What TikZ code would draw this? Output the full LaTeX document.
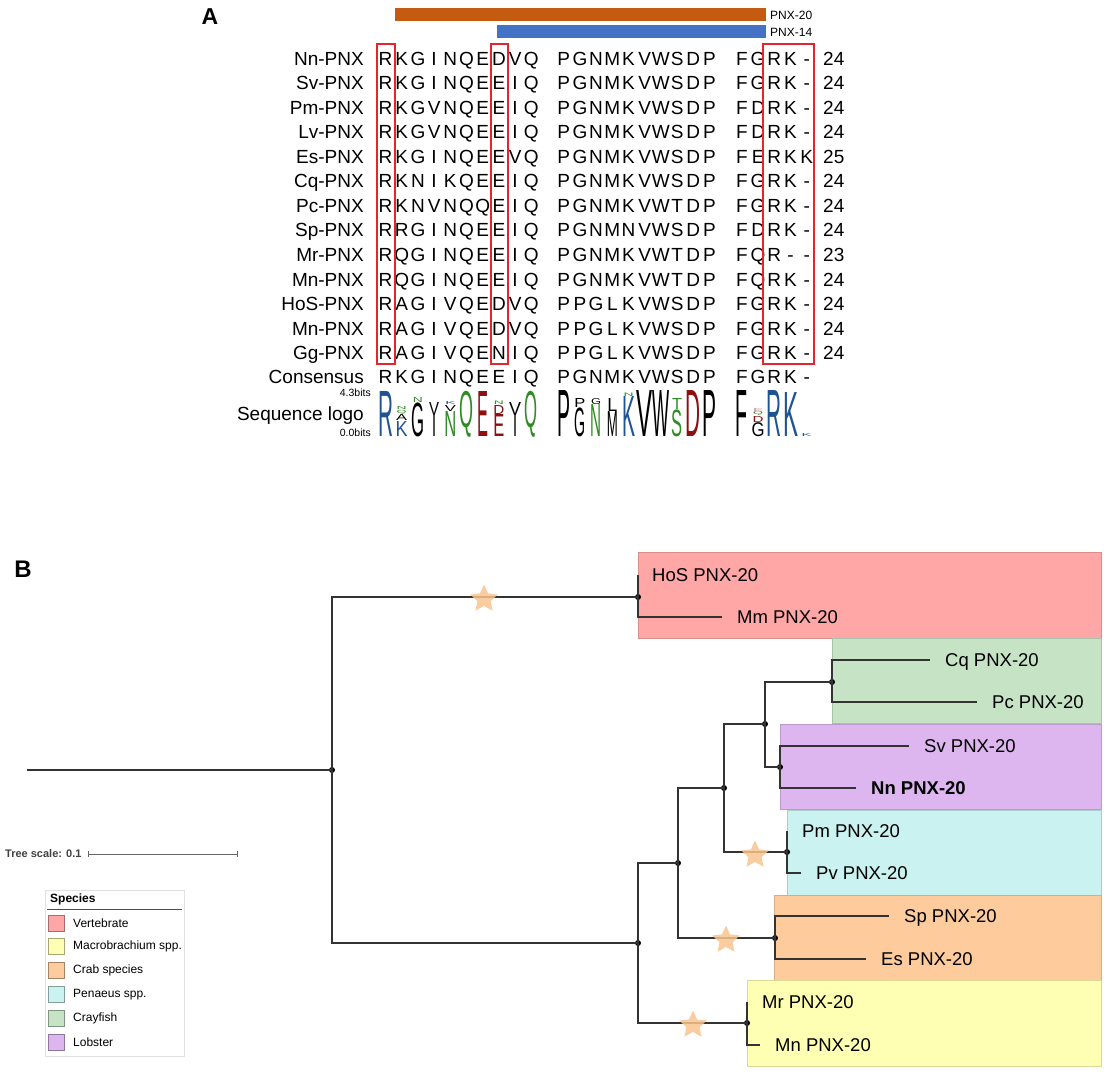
\documentclass[tikz,border=0pt]{standalone}
\usepackage{fontspec}
\setmainfont{Liberation Sans}
\usepackage{graphicx}
\usetikzlibrary{shapes.geometric}

\definecolor{barorange}{HTML}{C55A11}
\definecolor{barblue}{HTML}{4472C4}
\definecolor{markred}{HTML}{E3262E}
\definecolor{logoblue}{HTML}{1F5493}
\definecolor{logogreen}{HTML}{2F8C22}
\definecolor{logored}{HTML}{8C1010}
\definecolor{vertebrate}{HTML}{FFA6A6}
\definecolor{macrobrachium}{HTML}{FFFFB3}
\definecolor{crab}{HTML}{FDCB9C}
\definecolor{penaeus}{HTML}{C9F2F0}
\definecolor{crayfish}{HTML}{C6E3C6}
\definecolor{lobster}{HTML}{DDB5EF}
\definecolor{starfill}{HTML}{F8C48E}

\tikzset{panel/.style={inner sep=0pt, font=\fontsize{23}{23}\selectfont\bfseries},
        barlabel/.style={anchor=west, inner sep=0pt, font=\fontsize{12}{12}\selectfont},
        residue/.style={inner sep=0pt, text height=13.6pt, text depth=0pt, font=\fontsize{19}{19}\selectfont},
        rowname/.style={residue, anchor=east},
        rowlen/.style={residue, anchor=west},
        bitlabel/.style={anchor=east, inner sep=0pt, text height=7.5pt, text depth=0pt, font=\fontsize{10.5}{10.5}\selectfont},
        logochar/.style={anchor=south, inner sep=0pt},
        markbox/.style={draw=markred, line width=1.6pt},
        branch/.style={draw=black!80, line width=1.2pt},
        tolabel/.style={branch, shorten >=15pt},
        inode/.style={circle, fill=black, inner sep=0pt, minimum size=6pt},
        leaf/.style={anchor=west, inner sep=0pt, text height=13.2pt, text depth=0pt, font=\fontsize{18.5}{18.5}\selectfont},
        event/.style={star, star points=5, star point ratio=2.1, minimum size=29pt, inner sep=0pt, fill=starfill, fill opacity=.85},
        clade/.style={fill=#1, draw=#1!85!black, line width=.6pt},
        swatch/.style={fill=#1, draw=#1!65!black, line width=.8pt, minimum size=16pt, inner sep=0pt},
        legtext/.style={anchor=west, inner sep=0pt, font=\fontsize{12}{12}\selectfont},
        }

% one stretched letter of the sequence logo: column, bottom, height, width, colour, letter
\newcommand{\logochar}[6]{%
    \node[logochar] (logo-#1-#6) at ({385.5+16.2*#1},#2) {\resizebox*{#4pt}{#3pt}{\color{#5}#6}};}

\begin{document}
\begin{tikzpicture}[x=1pt,y=-1pt]
    \useasboundingbox (0,0) rectangle (1110,1076);

    %% panel A
    \node[panel] (labA) at (210,17) {A};
    \fill[barorange] (395,8) rectangle (766,21);
    \fill[barblue] (497,25) rectangle (766,38);
    \node[barlabel] (pnx20) at (770,15) {PNX-20};
    \node[barlabel] (pnx14) at (770,32) {PNX-14};

    \foreach \name/\seq/\len [count=\r from 0] in {
        Nn-PNX/{R,K,G,I,N,Q,E,D,V,Q,P,G,N,M,K,V,W,S,D,P,F,G,R,K,-}/24,
        Sv-PNX/{R,K,G,I,N,Q,E,E,I,Q,P,G,N,M,K,V,W,S,D,P,F,G,R,K,-}/24,
        Pm-PNX/{R,K,G,V,N,Q,E,E,I,Q,P,G,N,M,K,V,W,S,D,P,F,D,R,K,-}/24,
        Lv-PNX/{R,K,G,V,N,Q,E,E,I,Q,P,G,N,M,K,V,W,S,D,P,F,D,R,K,-}/24,
        Es-PNX/{R,K,G,I,N,Q,E,E,V,Q,P,G,N,M,K,V,W,S,D,P,F,E,R,K,K}/25,
        Cq-PNX/{R,K,N,I,K,Q,E,E,I,Q,P,G,N,M,K,V,W,S,D,P,F,G,R,K,-}/24,
        Pc-PNX/{R,K,N,V,N,Q,Q,E,I,Q,P,G,N,M,K,V,W,T,D,P,F,G,R,K,-}/24,
        Sp-PNX/{R,R,G,I,N,Q,E,E,I,Q,P,G,N,M,N,V,W,S,D,P,F,D,R,K,-}/24,
        Mr-PNX/{R,Q,G,I,N,Q,E,E,I,Q,P,G,N,M,K,V,W,T,D,P,F,Q,R,-,-}/23,
        Mn-PNX/{R,Q,G,I,N,Q,E,E,I,Q,P,G,N,M,K,V,W,T,D,P,F,Q,R,K,-}/24,
        HoS-PNX/{R,A,G,I,V,Q,E,D,V,Q,P,P,G,L,K,V,W,S,D,P,F,G,R,K,-}/24,
        Mn-PNX/{R,A,G,I,V,Q,E,D,V,Q,P,P,G,L,K,V,W,S,D,P,F,G,R,K,-}/24,
        Gg-PNX/{R,A,G,I,V,Q,E,N,I,Q,P,P,G,L,K,V,W,S,D,P,F,G,R,K,-}/24} {
        \node[rowname] (name\r) at (364,{58.3+24.55*\r}) {\name};
        \foreach \c [count=\i from 0] in \seq {
            \pgfmathtruncatemacro{\col}{\i<10 ? \i : (\i<20 ? \i+1 : \i+2)}
            \node[residue] (res-\r-\i) at ({385.5+16.2*\col},{58.3+24.55*\r}) {\c};
        }
        \node[rowlen] (len\r) at (823,{58.3+24.55*\r}) {\len};
    }

    \draw[markbox] (377,44) rectangle (395,364);
    \draw[markbox] (491,44) rectangle (508,364);
    \draw[markbox] (763,44) rectangle (814,364);

    \node[rowname] (consname) at (364,377) {Consensus};
    \foreach \c [count=\i from 0] in {R,K,G,I,N,Q,E,E,I,Q,P,G,N,M,K,V,W,S,D,P,F,G,R,K,-} {
        \pgfmathtruncatemacro{\col}{\i<10 ? \i : (\i<20 ? \i+1 : \i+2)}
        \node[residue] (cons-\i) at ({385.5+16.2*\col},377) {\c};
    }

    \node[rowname] (logoname) at (364,414) {Sequence logo};
    \node[bitlabel] (bitstop) at (371,393) {4.3bits};
    \node[bitlabel] (bitsbottom) at (371,433) {0.0bits};

    \logochar{0}{437}{45}{15}{logoblue}{R}
    \logochar{1}{437}{15}{12}{logoblue}{K}
    \logochar{1}{421}{6}{11}{black}{A}
    \logochar{1}{414.5}{4}{10}{logogreen}{Q}
    \logochar{1}{410}{3}{10}{logogreen}{N}
    \logochar{2}{437}{34}{13}{black}{G}
    \logochar{2}{402.5}{5}{10}{logogreen}{N}
    \logochar{3}{437}{21}{4}{black}{I}
    \logochar{3}{415.5}{13}{10}{black}{V}
    \logochar{4}{437}{25}{12}{logogreen}{N}
    \logochar{4}{411.5}{6}{11}{black}{V}
    \logochar{4}{405}{3}{10}{logoblue}{K}
    \logochar{5}{437}{46}{14}{logogreen}{Q}
    \logochar{6}{437}{45}{11}{logored}{E}
    \logochar{7}{437}{22}{11}{logored}{E}
    \logochar{7}{414.5}{9}{11}{logored}{D}
    \logochar{7}{405}{3.5}{10}{logogreen}{N}
    \logochar{8}{437}{21}{4}{black}{I}
    \logochar{8}{415.5}{13}{12}{black}{V}
    \logochar{9}{437}{46}{13}{logogreen}{Q}
    \logochar{11}{437}{46}{13}{black}{P}
    \logochar{12}{437}{29}{11}{black}{G}
    \logochar{12}{407.5}{9}{11}{black}{P}
    \logochar{13}{437}{32}{11}{logogreen}{N}
    \logochar{13}{404.5}{6}{10}{black}{G}
    \logochar{14}{437}{25}{11}{black}{M}
    \logochar{14}{411.5}{13}{10}{black}{L}
    \logochar{15}{437}{40}{13}{logoblue}{K}
    \logochar{15}{396.5}{3.5}{10}{logogreen}{N}
    \logochar{16}{437}{46}{16}{black}{V}
    \logochar{17}{437}{46}{17}{black}{W}
    \logochar{18}{437}{27}{11}{logogreen}{S}
    \logochar{18}{409.5}{11}{10}{logogreen}{T}
    \logochar{19}{437}{46}{15}{logored}{D}
    \logochar{20}{437}{46}{14}{black}{P}
    \logochar{22}{437}{46}{12}{black}{F}
    \logochar{23}{437}{14}{13}{black}{G}
    \logochar{23}{422.5}{6}{11}{logored}{D}
    \logochar{23}{416}{4}{10}{logogreen}{Q}
    \logochar{23}{411.5}{3}{10}{logored!45}{E}
    \logochar{24}{437}{46}{15}{logoblue}{R}
    \logochar{25}{437}{44}{15}{logoblue}{K}
    \logochar{26}{437}{3}{10}{logoblue}{K}

    %% panel B
    \node[panel, font=\fontsize{24}{24}\selectfont\bfseries] (labB) at (23,569) {B};

    \path[clade=vertebrate] (638,552) rectangle (1101,638);
    \path[clade=crayfish] (832,638) rectangle (1101,723);
    \path[clade=lobster] (780,724) rectangle (1101,809);
    \path[clade=penaeus] (787,810) rectangle (1101,895);
    \path[clade=crab] (774,895) rectangle (1101,980);
    \path[clade=macrobrachium] (747,980) rectangle (1101,1066);

    \coordinate (root) at (27,770);
    \node[inode] (n0) at (332,770) {};
    \node[inode] (nVert) at (638,597) {};
    \node[inode] (nInv) at (638,943) {};
    \node[inode] (nA) at (678,863) {};
    \node[inode] (nMac) at (747,1023) {};
    \node[inode] (nB) at (724,788) {};
    \node[inode] (nCrab) at (775,938) {};
    \node[inode] (nC) at (765,724) {};
    \node[inode] (nPen) at (787,852) {};
    \node[inode] (nCray) at (832,682) {};
    \node[inode] (nLob) at (780,767) {};

    \node[leaf] (hos) at (652,575) {HoS PNX-20};
    \node[leaf] (mm) at (737,617) {Mm PNX-20};
    \node[leaf] (cq) at (945,660) {Cq PNX-20};
    \node[leaf] (pc) at (992,702) {Pc PNX-20};
    \node[leaf] (sv) at (924,746) {Sv PNX-20};
    \node[leaf, font=\fontsize{18.5}{18.5}\selectfont\bfseries] (nn) at (871,788) {Nn PNX-20};
    \node[leaf] (pm) at (802,831) {Pm PNX-20};
    \node[leaf] (pv) at (816,873) {Pv PNX-20};
    \node[leaf] (sp) at (904,916) {Sp PNX-20};
    \node[leaf] (es) at (881,959) {Es PNX-20};
    \node[leaf] (mr) at (762,1002) {Mr PNX-20};
    \node[leaf] (mn) at (775,1045) {Mn PNX-20};

    \draw[branch] (root) -- (n0.center);
    \draw[branch] (n0.center) |- (nVert.center);
    \draw[branch] (n0.center) |- (nInv.center);
    \draw[branch] (nVert.center) -- (nVert.center |- hos.west);
    \draw[tolabel] (nVert.center) |- (mm.west);
    \draw[branch] (nInv.center) |- (nA.center);
    \draw[branch] (nInv.center) |- (nMac.center);
    \draw[branch] (nA.center) |- (nB.center);
    \draw[branch] (nA.center) |- (nCrab.center);
    \draw[branch] (nB.center) |- (nC.center);
    \draw[branch] (nB.center) |- (nPen.center);
    \draw[branch] (nC.center) |- (nCray.center);
    \draw[branch] (nC.center) |- (nLob.center);
    \draw[tolabel] (nCray.center) |- (cq.west);
    \draw[tolabel] (nCray.center) |- (pc.west);
    \draw[tolabel] (nLob.center) |- (sv.west);
    \draw[tolabel] (nLob.center) |- (nn.west);
    \draw[branch] (nPen.center) -- (nPen.center |- pm.west);
    \draw[tolabel] (nPen.center) |- (pv.west);
    \draw[tolabel] (nCrab.center) |- (sp.west);
    \draw[tolabel] (nCrab.center) |- (es.west);
    \draw[branch] (nMac.center) -- (nMac.center |- mr.west);
    \draw[tolabel] (nMac.center) |- (mn.west);

    \node[event] (ev1) at (484,599) {};
    \node[event] (ev2) at (755,855) {};
    \node[event] (ev3) at (726,940) {};
    \node[event] (ev4) at (693,1025) {};

    % tree scale
    \node[anchor=west, inner sep=0pt, text=black!75, font=\fontsize{11}{11}\selectfont\bfseries] (scalelab) at (5,854) {Tree scale: 0.1};
    \coordinate (sc0) at (88,854);
    \coordinate (sc1) at (237,854);
    \draw[black!60, line width=.9pt] (sc0) -- (sc1);
    \draw[black!60, line width=.9pt] ([yshift=3pt]sc0) -- ([yshift=-3pt]sc0);
    \draw[black!60, line width=.9pt] ([yshift=3pt]sc1) -- ([yshift=-3pt]sc1);

    % legend
    \node[draw=black!12, fill=white, line width=.6pt, minimum width=139pt, minimum height=166pt, inner sep=0pt, anchor=north west] (legend) at (45,890) {};
    \node[anchor=west, inner sep=0pt, font=\fontsize{12}{12}\selectfont\bfseries] (legtitle) at (50,899) {Species};
    \draw[black!70, line width=1pt] (47,909) -- (182,909);
    \foreach \fillc/\txt [count=\k from 0] in {vertebrate/Vertebrate, macrobrachium/Macrobrachium spp., crab/Crab species, penaeus/Penaeus spp., crayfish/Crayfish, lobster/Lobster} {
        \node[swatch=\fillc] (sw\k) at (56,{923+23.8*\k}) {};
        \node[legtext] (lt\k) at (73,{923+23.8*\k}) {\txt};
    }
\end{tikzpicture}
\end{document}
